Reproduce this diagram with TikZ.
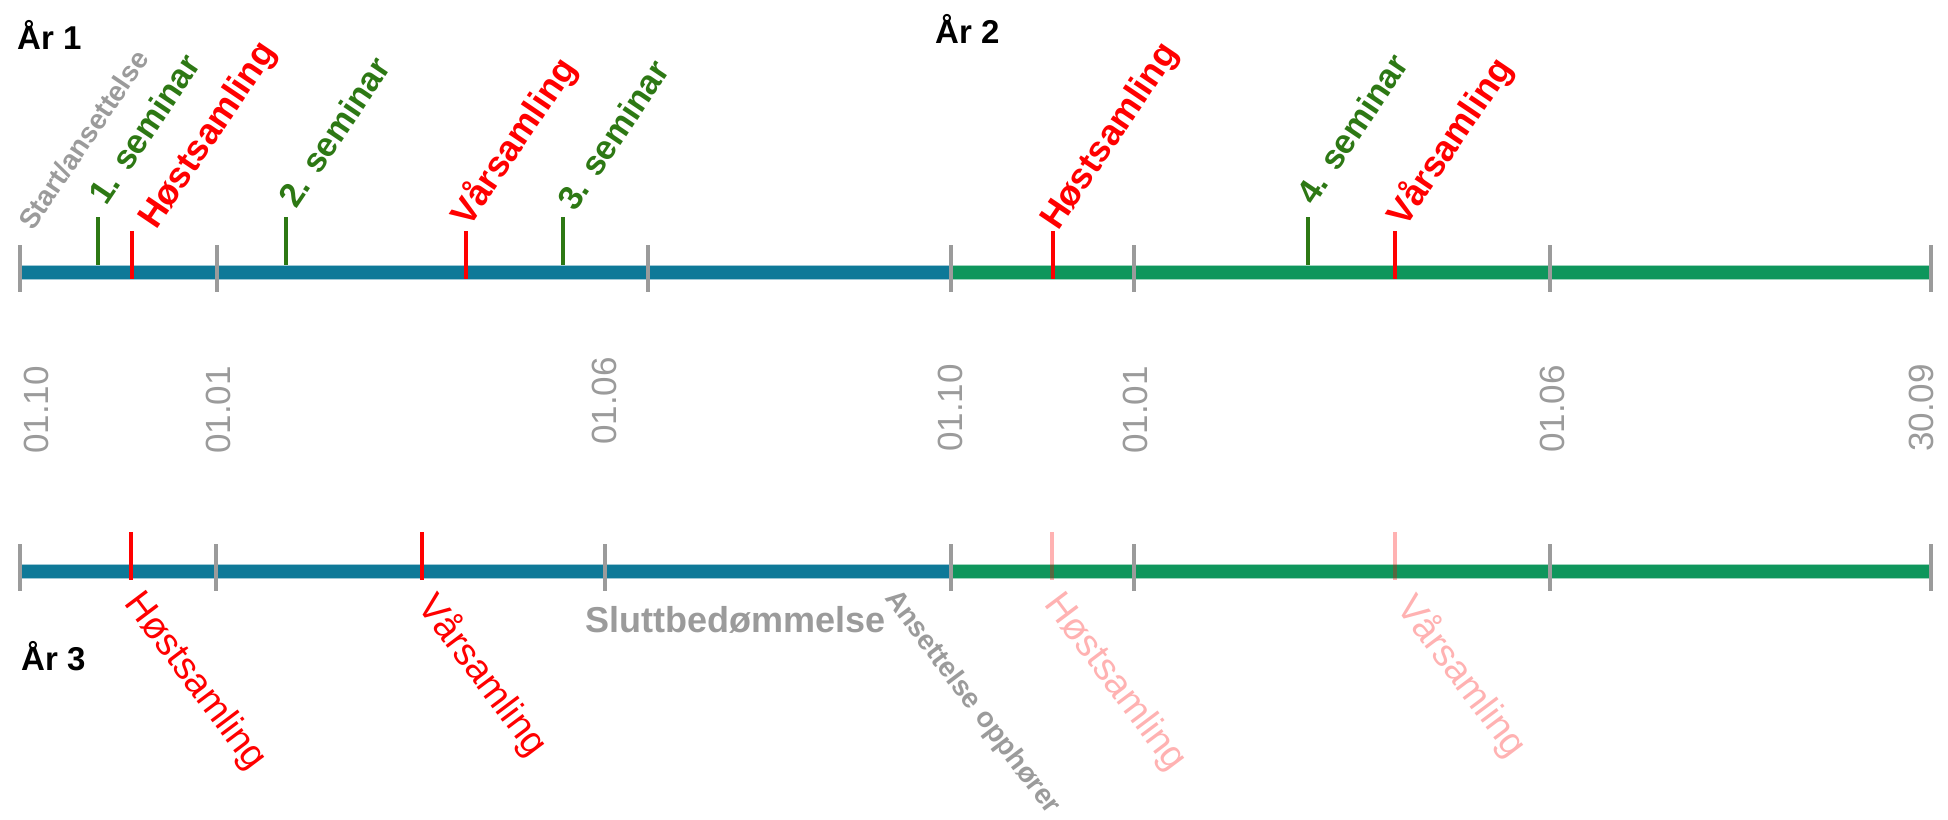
\documentclass[tikz,border=0pt]{standalone}
\usepackage{fontspec}
\setmainfont{Liberation Sans}
\definecolor{barblue}{RGB}{14,121,152}
\definecolor{bargreen}{RGB}{14,150,92}
\definecolor{tickgray}{RGB}{155,155,155}
\definecolor{evred}{RGB}{255,0,0}
\definecolor{semgreen}{RGB}{45,120,20}
\tikzset{
  bluebar/.style={fill=barblue, draw=barblue!40, line width=1pt},
  greenbar/.style={fill=bargreen, draw=bargreen!40, line width=1pt},
  graytick/.style={draw=tickgray, line width=4pt},
  redtick/.style={draw=evred, line width=4pt},
  fadetick/.style={draw=evred, draw opacity=0.3, line width=4pt},
  greentick/.style={draw=semgreen, line width=3.5pt},
  toplbl/.style={inner sep=0pt, anchor=base west, rotate=56},
  botlbl/.style={inner sep=0pt, anchor=base west, rotate=-53},
  redbig/.style={text=evred, font=\fontsize{36}{40}\selectfont\bfseries},
  semlbl/.style={text=semgreen, font=\fontsize{34}{38}\selectfont\bfseries},
  smallgray/.style={text=tickgray, font=\fontsize{28}{32}\selectfont\bfseries},
  redreg/.style={text=evred, font=\fontsize{38}{42}\selectfont},
  fadereg/.style={text=evred!30, font=\fontsize{38}{42}\selectfont},
  datelbl/.style={inner sep=0pt, rotate=90, text=tickgray, font=\fontsize{35}{38}\selectfont},
  yearlbl/.style={inner sep=0pt, anchor=base west, text=black, font=\fontsize{33}{36}\selectfont\bfseries},
}
\begin{document}
\begin{tikzpicture}[x=1pt,y=-1pt]
\useasboundingbox (0,0) rectangle (1948,819);

% ---------- top timeline ----------
\draw[bluebar] (20,265) rectangle (951,279);
\draw[greenbar] (951,265) rectangle (1930,279);
\foreach \x in {20,217,648,951,1134,1550,1931}
  \draw[graytick] (\x,245) -- (\x,292);
\foreach \x in {98,286,563,1308}
  \draw[greentick] (\x,217) -- (\x,265);
\foreach \x in {132,466,1053,1395}
  \draw[redtick] (\x,231) -- (\x,279);

\node[toplbl, smallgray] (start) at (33,232) {Start/ansettelse};
\node[toplbl, semlbl] (sem1) at (106,207) {1. seminar};
\node[toplbl, redbig] (host1) at (156,231) {Høstsamling};
\node[toplbl, semlbl] (sem2) at (296,210) {2. seminar};
\node[toplbl, redbig] (var1) at (469,229) {Vårsamling};
\node[toplbl, semlbl] (sem3) at (575,213) {3. seminar};
\node[toplbl, redbig] (host2) at (1058,232) {Høstsamling};
\node[toplbl, semlbl] (sem4) at (1314,207) {4. seminar};
\node[toplbl, redbig] (var2) at (1405,229) {Vårsamling};

\node[yearlbl] (aar1) at (17,49) {År 1};
\node[yearlbl] (aar2) at (935,43) {År 2};

% ---------- date labels ----------
\node[datelbl] (d1) at (36,410) {01.10};
\node[datelbl] (d2) at (218,410) {01.01};
\node[datelbl] (d3) at (604,401) {01.06};
\node[datelbl] (d4) at (950,408) {01.10};
\node[datelbl] (d5) at (1135,410) {01.01};
\node[datelbl] (d6) at (1552,409) {01.06};
\node[datelbl] (d7) at (1921,408) {30.09};

% ---------- bottom timeline ----------
\draw[bluebar] (20,564) rectangle (951,578);
\draw[greenbar] (951,564) rectangle (1930,578);
\foreach \x in {20,216,605,951,1134,1550,1931}
  \draw[graytick] (\x,544) -- (\x,591);
\foreach \x in {131,422}
  \draw[redtick] (\x,532) -- (\x,580);
\foreach \x in {1052,1395}
  \draw[fadetick] (\x,532) -- (\x,580);

\node[botlbl, redreg] (host3) at (123,603) {Høstsamling};
\node[botlbl, redreg] (var3) at (416,606) {Vårsamling};
\node[botlbl, smallgray] (slutt2) at (884,598) {Ansettelse opphører};
\node[botlbl, fadereg] (host4) at (1043,604) {Høstsamling};
\node[botlbl, fadereg] (var4) at (1395,607) {Vårsamling};
\node[inner sep=0pt, anchor=base west, text=tickgray, font=\fontsize{36}{40}\selectfont\bfseries] (slutt) at (585,632) {Sluttbedømmelse};

\node[yearlbl] (aar3) at (21,670) {År 3};
\end{tikzpicture}
\end{document}
